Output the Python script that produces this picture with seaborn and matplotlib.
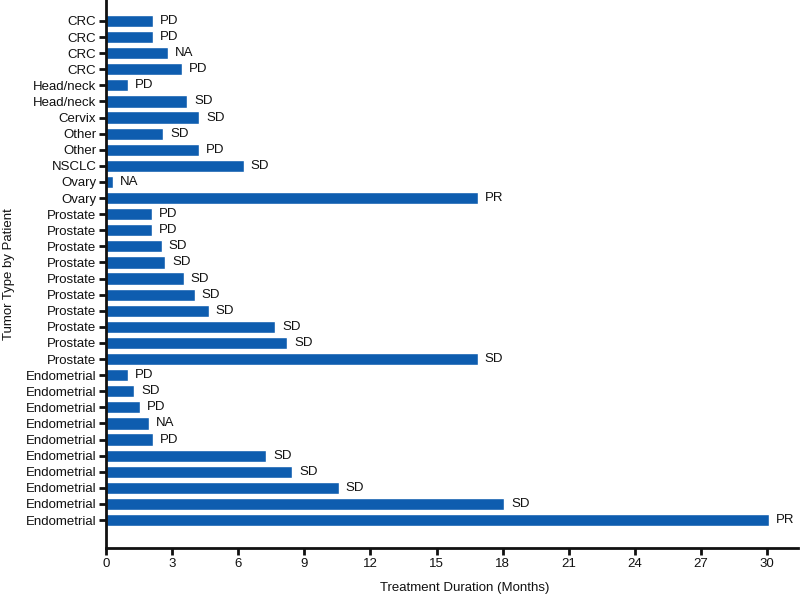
import matplotlib
matplotlib.use("Agg")
import matplotlib.pyplot as plt
import seaborn as sns
import pandas as pd

tumor_types = [
    "CRC", "CRC", "CRC", "CRC", "Head/neck", "Head/neck", "Cervix", "Other", "Other",
    "NSCLC", "Ovary", "Ovary",
    "Prostate", "Prostate", "Prostate", "Prostate", "Prostate", "Prostate", "Prostate",
    "Prostate", "Prostate", "Prostate",
    "Endometrial", "Endometrial", "Endometrial", "Endometrial", "Endometrial",
    "Endometrial", "Endometrial", "Endometrial", "Endometrial", "Endometrial",
]
durations = [
    2.15, 2.15, 2.83, 3.46, 1.01, 3.69, 4.24, 2.60, 4.21,
    6.26, 0.30, 16.87,
    2.07, 2.10, 2.53, 2.69, 3.53, 4.03, 4.66, 7.69, 8.22, 16.87,
    1.01, 1.27, 1.56, 1.95, 2.15, 7.26, 8.44, 10.56, 18.07, 30.1,
]
responses = [
    "PD", "PD", "NA", "PD", "PD", "SD", "SD", "SD", "PD",
    "SD", "NA", "PR",
    "PD", "PD", "SD", "SD", "SD", "SD", "SD", "SD", "SD", "SD",
    "PD", "SD", "PD", "NA", "PD", "SD", "SD", "SD", "SD", "PR",
]
x_ticks = [0, 3, 6, 9, 12, 15, 18, 21, 24, 27, 30]

df = pd.DataFrame({
    "patient": [f"P{i:02d}" for i in range(len(tumor_types))],
    "tumor": tumor_types,
    "duration": durations,
    "response": responses,
})

sns.set_theme(style="white")
plt.rcParams["font.family"] = ["Liberation Sans", "DejaVu Sans"]

fig = plt.figure(figsize=(8, 5.97), dpi=100)
ax = fig.add_axes([0.1325, 0.082, 0.865, 0.918])

sns.barplot(data=df, x="duration", y="patient", orient="h", color="#0E5DAF",
            saturation=1, width=0.76, ax=ax, errorbar=None)

for c in ax.containers:
    ax.bar_label(c, labels=df["response"].tolist(), padding=5, fontsize=9.5,
                 color="#111111")

ax.set_yticks(range(len(tumor_types)))
ax.set_yticklabels(tumor_types, fontsize=9.5, color="#111111")
ax.set_xticks(x_ticks)
ax.set_xticklabels([str(t) for t in x_ticks], fontsize=9.5, color="#111111")
ax.set_xlim(0, 31.4)
ax.set_ylim(32.74, -1.30)

ax.set_xlabel("Treatment Duration (Months)", fontsize=9.5, color="#111111")
ax.set_ylabel("Tumor Type by Patient", fontsize=9.5, color="#111111")
ax.xaxis.set_label_coords(0.519, -0.062)
ax.yaxis.set_label_coords(-0.131, 0.5)

sns.despine(ax=ax)
for s in ["left", "bottom"]:
    ax.spines[s].set_color("#111111")
    ax.spines[s].set_linewidth(2)
ax.tick_params(axis="both", which="major", length=5, width=2, color="#111111",
               direction="out", pad=2, left=True, bottom=True)
ax.grid(False)

fig.savefig("out.png", dpi=100)
